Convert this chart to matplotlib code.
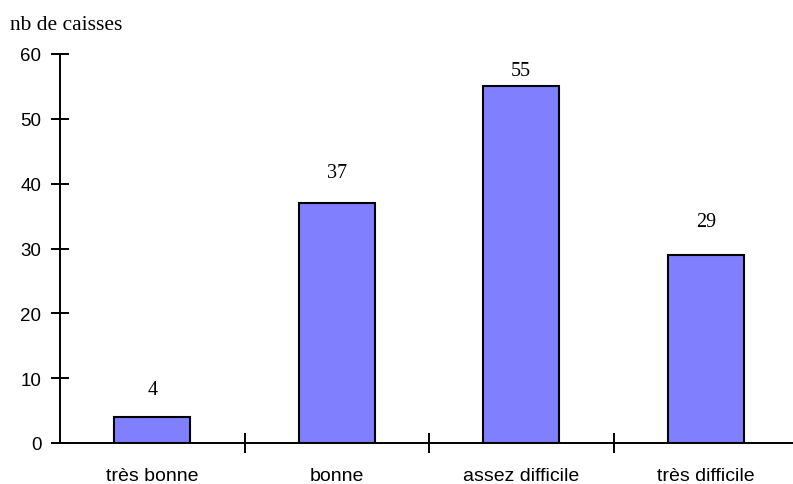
import matplotlib.pyplot as plt
from matplotlib.ticker import FixedLocator, NullFormatter

categories = ["très bonne", "bonne", "assez difficile", "très difficile"]
counts = [4, 37, 55, 29]
y_ticks = [0, 10, 20, 30, 40, 50, 60]

# gap in pixels between bar top and the value label
label_gaps = [28, 31, 16, 33]

W, H = 793, 485
fig = plt.figure(figsize=(W / 100, H / 100), dpi=100)
x0, x1 = 60, 798
y0, y1 = 444, 55
ax = fig.add_axes([x0 / W, (H - y0) / H, (x1 - x0) / W, (y0 - y1) / H])

pos = list(range(len(categories)))
ax.bar(pos, counts, width=0.41, color="#8080FF", edgecolor="black", linewidth=1.5, zorder=2)

for p, v, g in zip(pos, counts, label_gaps):
    ax.annotate(str(v), (p, v), xytext=(0, g), textcoords="offset pixels",
                ha="center", va="center", fontsize=14.5, family="Liberation Serif")

ax.set_xlim(-0.5, len(categories) - 0.5)
ax.set_ylim(0, 60)

for s in ["top", "right"]:
    ax.spines[s].set_visible(False)
for s in ["left", "bottom"]:
    ax.spines[s].set_linewidth(1.4)

ax.set_yticks(y_ticks)
ax.tick_params(axis="y", direction="inout", length=13, width=1.4, pad=7, labelsize=13.5)

# category separators as major ticks, names as minor ticks
ax.xaxis.set_major_locator(FixedLocator([p + 0.5 for p in pos[:-1]]))
ax.xaxis.set_major_formatter(NullFormatter())
ax.xaxis.set_minor_locator(FixedLocator(pos))
ax.set_xticklabels(categories, minor=True)
ax.tick_params(axis="x", which="major", direction="inout", length=14, width=1.4)
ax.tick_params(axis="x", which="minor", length=0, pad=17, labelsize=14)

for lab in ax.get_xticklabels(minor=True) + ax.get_yticklabels():
    lab.set_family("Liberation Sans")

fig.text(10 / W, 1 - 26 / H, "nb de caisses", ha="left", va="center",
         fontsize=15.5, family="Liberation Serif")

fig.savefig("out.png", dpi=100)
